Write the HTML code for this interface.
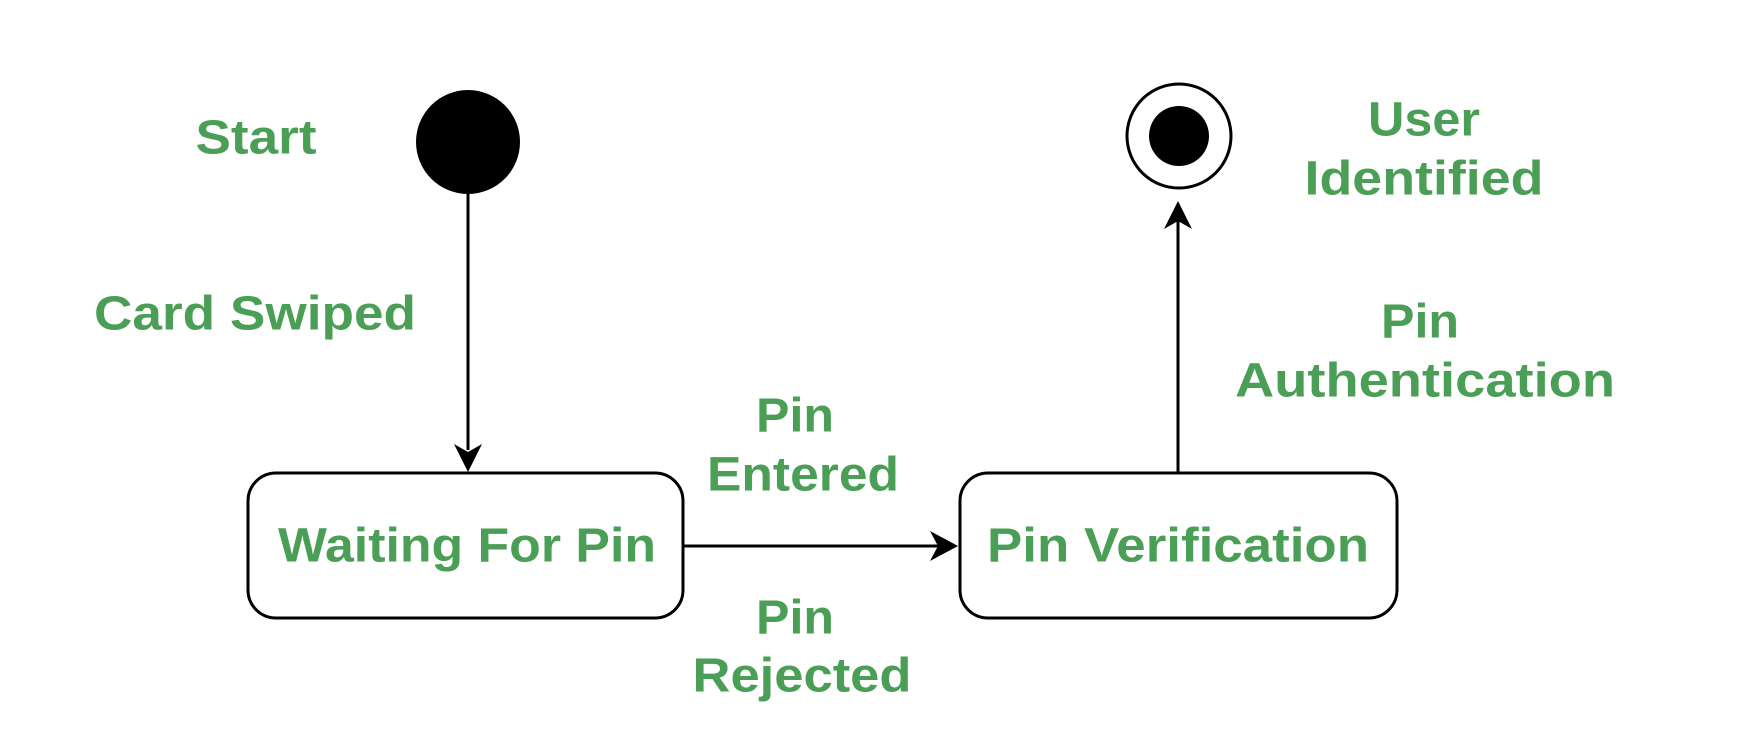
<!DOCTYPE html>
<html><head><meta charset="utf-8"><style>html,body{margin:0;padding:0;background:#fff}</style></head>
<body>
<svg width="1744" height="746" viewBox="0 0 1744 746" xmlns="http://www.w3.org/2000/svg">
<rect width="1744" height="746" fill="#fff"/>
<!-- start -->
<circle cx="468" cy="142" r="52" fill="#000"/>
<line x1="468" y1="190" x2="468" y2="450" stroke="#000" stroke-width="3"/>
<polygon points="454,444 468,472 482,444 468,452" fill="#000"/>
<!-- box1 -->
<rect x="248" y="473" width="435" height="145" rx="28" fill="#fff" stroke="#000" stroke-width="3"/>
<line x1="683" y1="546" x2="940" y2="546" stroke="#000" stroke-width="3"/>
<polygon points="930,531 958,546 930,561 938,546" fill="#000"/>
<!-- box2 -->
<rect x="960" y="473" width="437" height="145" rx="28" fill="#fff" stroke="#000" stroke-width="3"/>
<line x1="1178" y1="473" x2="1178" y2="220" stroke="#000" stroke-width="3"/>
<polygon points="1164,229 1178,201 1192,229 1178,221" fill="#000"/>
<!-- end -->
<circle cx="1179" cy="136" r="52" fill="#fff" stroke="#000" stroke-width="3"/>
<circle cx="1179" cy="136" r="30" fill="#000"/>
<g font-family="Liberation Sans, sans-serif" font-weight="bold" font-size="48" fill="#4a9e55" text-anchor="middle" dominant-baseline="central">
<text x="256" y="138" textLength="121" lengthAdjust="spacingAndGlyphs">Start</text>
<text x="255" y="314" textLength="322" lengthAdjust="spacingAndGlyphs">Card Swiped</text>
<text x="467" y="546" textLength="378" lengthAdjust="spacingAndGlyphs">Waiting For Pin</text>
<text x="1178" y="546" textLength="382" lengthAdjust="spacingAndGlyphs">Pin Verification</text>
<text x="1424" y="120" textLength="112" lengthAdjust="spacingAndGlyphs">User</text>
<text x="1424" y="179" textLength="239" lengthAdjust="spacingAndGlyphs">Identified</text>
<text x="1420" y="322" textLength="78" lengthAdjust="spacingAndGlyphs">Pin</text>
<text x="1425" y="381" textLength="380" lengthAdjust="spacingAndGlyphs">Authentication</text>
<text x="795" y="416" textLength="78" lengthAdjust="spacingAndGlyphs">Pin</text>
<text x="803" y="475" textLength="192" lengthAdjust="spacingAndGlyphs">Entered</text>
<text x="795" y="618" textLength="78" lengthAdjust="spacingAndGlyphs">Pin</text>
<text x="802" y="676" textLength="219" lengthAdjust="spacingAndGlyphs">Rejected</text>
</g>
</svg>
</body></html>
